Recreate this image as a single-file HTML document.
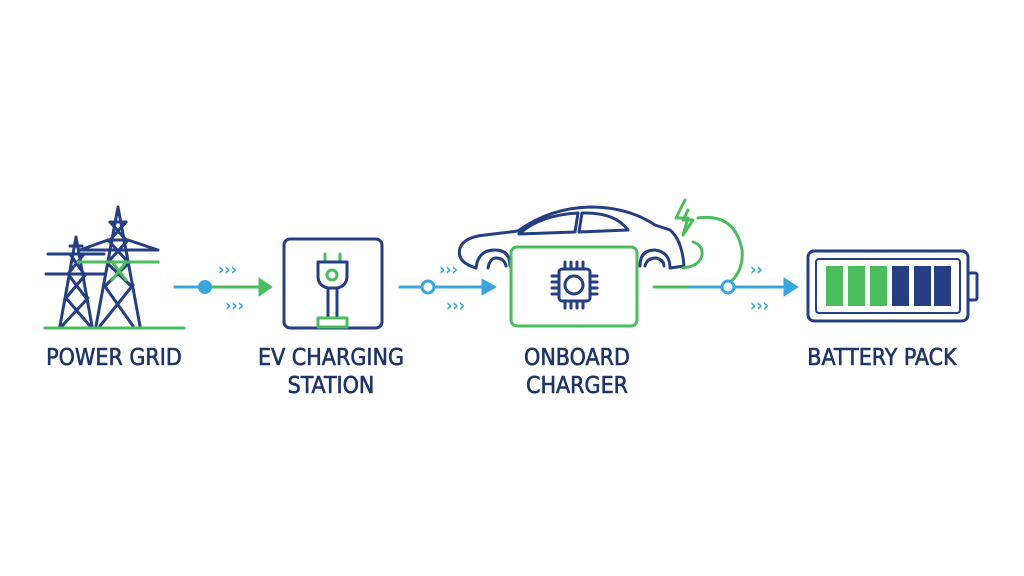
<!DOCTYPE html><html><head><style>body{margin:0;background:#fff}svg{display:block}text{font-family:"DejaVu Sans Condensed","Liberation Sans",sans-serif;fill:#1f3566;font-size:23px}.ch{font-size:17px;fill:#3aa6dc;font-weight:bold}</style></head><body>
<svg width="1024" height="576" viewBox="0 0 1024 576" fill="none" stroke-linecap="round" stroke-linejoin="round">
<g stroke="#263f82" stroke-width="3">
<path d="M118 207 L96 326 M118 207 L140 326 M108 240 L80 250 L158 250 L128 240 M104 262 L80 262 M132 262 L158 262 M110 222 L126 222 M108 240 L128 240"/>
<path d="M110 222 L126 240 M126 222 L110 240 M108 240 L128 262 M128 240 L108 262 M106 262 L130 285 M130 262 L106 285 M104 285 L133 326 M133 285 L100 326"/>
<path d="M76 237 L60 326 M76 237 L92 326 M48 254 L104 254 M46 274 L104 274 M70 254 L84 274 M84 254 L68 274 M68 274 L86 298 M86 274 L66 298 M66 298 L90 326 M88 298 L62 326 M70 246 L82 246"/>
</g>
<path d="M78 262 L158 262 M112 262 L126 280 M126 262 L112 280" stroke="#4bbd5e" stroke-width="3"/>
<line x1="45" y1="328" x2="184" y2="328" stroke="#4bbd5e" stroke-width="3"/>
<line x1="175" y1="287" x2="205" y2="287" stroke="#3aa6dc" stroke-width="3"/>
<line x1="205" y1="287" x2="262" y2="287" stroke="#4bbd5e" stroke-width="3"/>
<circle cx="205" cy="287" r="7" fill="#3aa6dc"/>
<path d="M259 278 L272 287 L259 296Z" fill="#4bbd5e" stroke="#4bbd5e"/>
<text x="218" y="275" class="ch">›››</text>
<text x="225" y="311" class="ch">›››</text>
<rect x="284" y="239" width="98" height="89" rx="6" stroke="#263f82" stroke-width="3"/>
<path d="M325 254 v8 M340 254 v8" stroke="#4bbd5e" stroke-width="3"/>
<path d="M318 262 h29 v14 q0 10 -10 12 h-9 q-10 -2 -10 -12z M328 288 v30 M337 288 v30" stroke="#263f82" stroke-width="3"/>
<circle cx="332" cy="275" r="5" stroke="#4bbd5e" stroke-width="3"/>
<rect x="318" y="318" width="29" height="9" stroke="#4bbd5e" stroke-width="3"/>
<line x1="400" y1="287" x2="485" y2="287" stroke="#3aa6dc" stroke-width="3"/>
<circle cx="428" cy="287" r="6" fill="#fff" stroke="#3aa6dc" stroke-width="3"/>
<path d="M482 279 L496 287 L482 295Z" fill="#3aa6dc" stroke="#3aa6dc"/>
<text x="439" y="275" class="ch">›››</text>
<text x="446" y="311" class="ch">›››</text>
<path d="M476 268 Q456 262 460 248 Q464 237 485 235 L518 231 Q550 208 590 207 Q628 207 655 225 L670 230 Q682 240 684 266 L670 268" stroke="#263f82" stroke-width="3"/>
<path d="M476 268 Q478 250 495 250 Q510 250 510 266 M640 266 Q640 250 655 250 Q670 252 670 268" stroke="#263f82" stroke-width="3"/>
<path d="M488 268 Q490 258 496 258 Q504 258 506 266 M645 266 Q647 258 656 258 Q664 260 664 266" stroke="#263f82" stroke-width="3"/>
<path d="M519 234 Q540 215 578 213 L575 232Z M582 213 Q615 212 628 230 L579 232Z" stroke="#263f82" stroke-width="3"/>
<rect x="511" y="247" width="126" height="79" rx="6" fill="#fff" stroke="#4bbd5e" stroke-width="3"/>
<g stroke="#263f82" stroke-width="3">
<rect x="559" y="269" width="31" height="32" rx="3"/>
<circle cx="574" cy="285" r="9"/>
<path d="M565 262v7M571 262v7M577 262v7M583 262v7M565 301v7M571 301v7M577 301v7M583 301v7M552 276h7M552 282h7M552 288h7M552 294h7M590 276h7M590 282h7M590 288h7M590 294h7"/>
</g>
<path d="M685 200 L676 218 L688 218 L683 235 L693 220 L683 220 L688 210" stroke="#4bbd5e" stroke-width="3"/>
<path d="M683 268 Q700 266 702 255 Q703 245 693 242 M698 218 Q735 213 742 250 Q744 272 728 284" stroke="#4bbd5e" stroke-width="3"/>
<line x1="654" y1="287" x2="690" y2="287" stroke="#4bbd5e" stroke-width="3"/>
<line x1="690" y1="287" x2="787" y2="287" stroke="#3aa6dc" stroke-width="3"/>
<circle cx="728" cy="287" r="6" fill="#fff" stroke="#3aa6dc" stroke-width="3"/>
<path d="M784 278 L798 287 L784 296Z" fill="#3aa6dc" stroke="#3aa6dc"/>
<text x="750" y="275" class="ch">››</text>
<text x="750" y="311" class="ch">›››</text>
<rect x="808" y="251" width="160" height="70" rx="6" stroke="#263f82" stroke-width="3"/>
<rect x="816" y="259" width="144" height="54" rx="3" stroke="#263f82" stroke-width="2"/>
<rect x="968" y="273" width="9" height="27" rx="2" stroke="#263f82" stroke-width="3"/>
<g stroke="none">
<rect x="826" y="266" width="17" height="40" fill="#4bbd5e"/><rect x="848" y="266" width="17" height="40" fill="#4bbd5e"/><rect x="870" y="266" width="17" height="40" fill="#4bbd5e"/>
<rect x="892" y="266" width="17" height="40" fill="#263f82"/><rect x="914" y="266" width="17" height="40" fill="#263f82"/><rect x="934" y="266" width="17" height="40" fill="#263f82"/>
</g>
<g stroke="#1f3566" stroke-width="0.6">
<text x="114" y="365" text-anchor="middle">POWER GRID</text>
<text x="331" y="365" text-anchor="middle">EV CHARGING</text>
<text x="331" y="393" text-anchor="middle">STATION</text>
<text x="577" y="365" text-anchor="middle">ONBOARD</text>
<text x="577" y="393" text-anchor="middle">CHARGER</text>
<text x="882" y="365" text-anchor="middle">BATTERY PACK</text>
</g>
</svg></body></html>
